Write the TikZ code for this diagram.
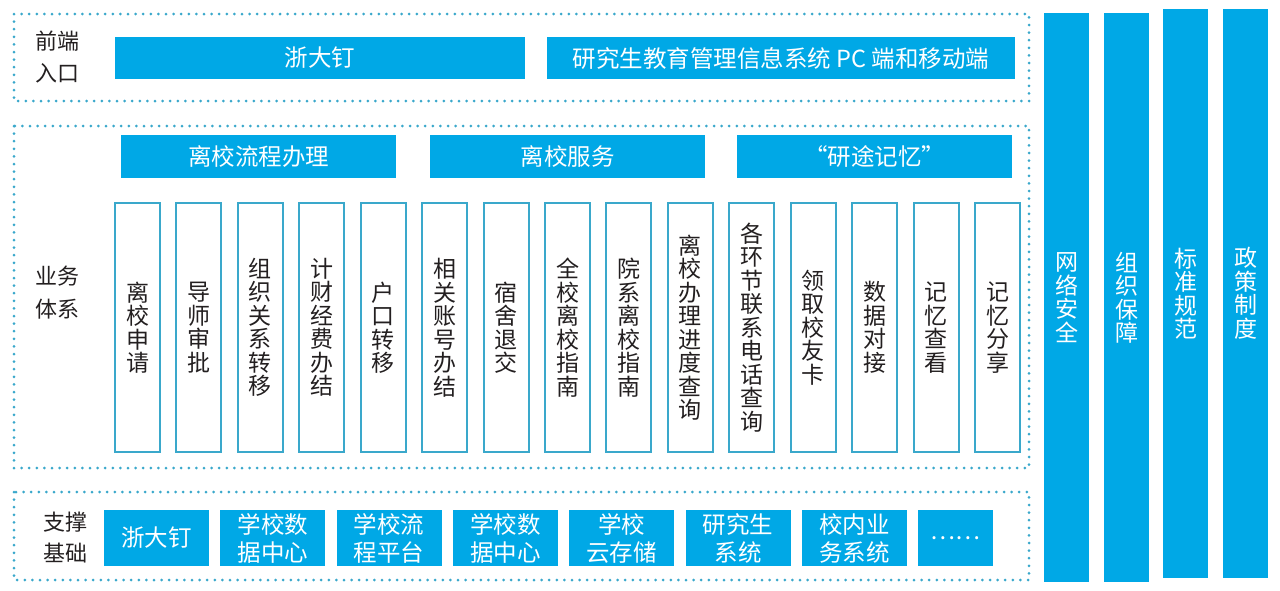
\documentclass[tikz,border=0pt]{standalone}
\usepackage{fontspec}
\setmainfont{Noto Sans CJK SC}
\usepackage{tikz}
\usetikzlibrary{positioning}
\definecolor{fillblue}{HTML}{00A8E6}
\definecolor{lineblue}{HTML}{3AA8CB}
\definecolor{inkgray}{HTML}{231F20}
\tikzset{
  dotbox/.style={draw=lineblue, line width=3pt, dash pattern=on 0pt off 7.6pt, line cap=round},
  fillbox/.style={fill=fillblue, text=white, inner sep=0pt, align=center, font=\fontsize{23.5}{28}\selectfont},
  colbox/.style={draw=lineblue, line width=2pt, fill=white, text=inkgray, minimum width=45, minimum height=249, inner sep=0pt, align=center, font=\fontsize{23}{23.5}\selectfont},
  barbox/.style={fillbox, minimum width=45, font=\fontsize{23}{23.5}\selectfont},
  sidelabel/.style={text=inkgray, align=center, inner sep=0pt, font=\fontsize{22}{32}\selectfont},
}
\begin{document}
\begin{tikzpicture}[x=1pt, y=-1pt]
  \useasboundingbox (0,0) rectangle (1280,590);
  % dotted frames
  \draw[dotbox] (14,14) rectangle (1029,101);
  \draw[dotbox] (14,126) rectangle (1029,468);
  \draw[dotbox] (14,492) rectangle (1029,580);
  % front end
  \node[sidelabel] (front) at (57,57) {前端\\入口};
  \node[fillbox, minimum width=410, minimum height=42] (ding) at (320,58) {浙大钉};
  \node[fillbox, minimum width=468, minimum height=42] (pc) at (781,58) {研究生教育管理信息系统 PC 端和移动端};
  % business
  \node[sidelabel, font=\fontsize{22}{33}\selectfont] (biz) at (57,293) {业务\\体系};
  \node[fillbox, minimum width=275, minimum height=43] (flow) at (258.5,156.5) {离校流程办理};
  \node[fillbox, minimum width=275, minimum height=43] (serv) at (567.5,156.5) {离校服务};
  \node[fillbox, minimum width=275, minimum height=43] (memo) at (874.5,156.5) {“研途记忆”};
  \node[colbox] (c1) at (137.5,327.5) {离\\校\\申\\请};
  \node[colbox] (c2) at (198.9,327.5) {导\\师\\审\\批};
  \node[colbox] (c3) at (260.4,327.5) {组\\织\\关\\系\\转\\移};
  \node[colbox] (c4) at (321.8,327.5) {计\\财\\经\\费\\办\\结};
  \node[colbox] (c5) at (383.2,327.5) {户\\口\\转\\移};
  \node[colbox] (c6) at (444.6,327.5) {相\\关\\账\\号\\办\\结};
  \node[colbox] (c7) at (506.1,327.5) {宿\\舍\\退\\交};
  \node[colbox] (c8) at (567.5,327.5) {全\\校\\离\\校\\指\\南};
  \node[colbox] (c9) at (628.9,327.5) {院\\系\\离\\校\\指\\南};
  \node[colbox] (c10) at (690.4,327.5) {离\\校\\办\\理\\进\\度\\查\\询};
  \node[colbox] (c11) at (751.8,327.5) {各\\环\\节\\联\\系\\电\\话\\查\\询};
  \node[colbox] (c12) at (813.2,327.5) {领\\取\\校\\友\\卡};
  \node[colbox] (c13) at (874.7,327.5) {数\\据\\对\\接};
  \node[colbox] (c14) at (936.1,327.5) {记\\忆\\查\\看};
  \node[colbox] (c15) at (997.5,327.5) {记\\忆\\分\\享};
  % support
  \node[sidelabel, font=\fontsize{22}{31}\selectfont] (base) at (65,538) {支撑\\基础};
  \node[fillbox, minimum width=105, minimum height=56] (b1) at (156.5,538) {浙大钉};
  \node[fillbox, minimum width=105, minimum height=56] (b2) at (272.8,538) {学校数\\据中心};
  \node[fillbox, minimum width=105, minimum height=56] (b3) at (389.1,538) {学校流\\程平台};
  \node[fillbox, minimum width=105, minimum height=56] (b4) at (505.4,538) {学校数\\据中心};
  \node[fillbox, minimum width=105, minimum height=56] (b5) at (621.7,538) {学校\\云存储};
  \node[fillbox, minimum width=105, minimum height=56] (b6) at (738,538) {研究生\\系统};
  \node[fillbox, minimum width=105, minimum height=56] (b7) at (854.3,538) {校内业\\务系统};
  \node[fillbox, minimum width=75, minimum height=56] (b8) at (955.5,538) {……};
  % side bars
  \node[barbox, minimum height=569] (net) at (1066.5,297.5) {网\\络\\安\\全};
  \node[barbox, minimum height=569] (org) at (1126.5,297.5) {组\\织\\保\\障};
  \node[barbox, minimum height=569] (std) at (1185.5,293.5) {标\\准\\规\\范};
  \node[barbox, minimum height=569] (pol) at (1245.5,293.5) {政\\策\\制\\度};
\end{tikzpicture}
\end{document}
